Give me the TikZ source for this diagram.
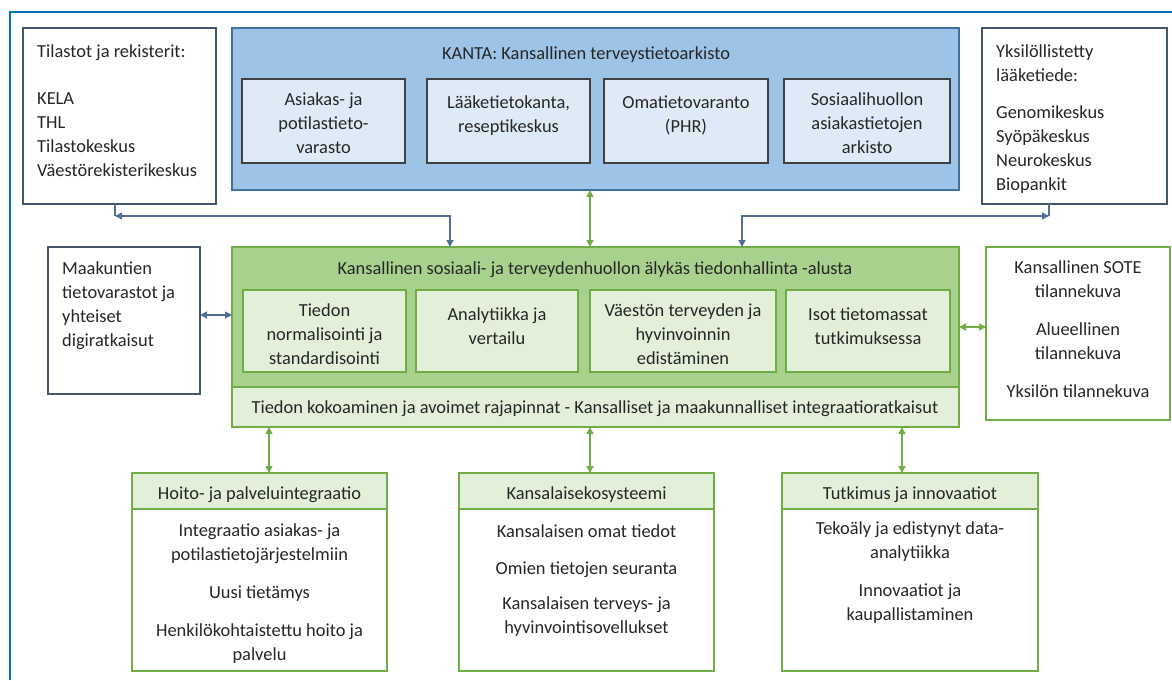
\documentclass[tikz,border=0pt]{standalone}
\usepackage{fontspec}
\setmainfont{Carlito}
\usetikzlibrary{arrows.meta,calc}

\definecolor{frameblue}{RGB}{0,112,192}
\definecolor{slate}{RGB}{68,84,106}
\definecolor{kantafill}{RGB}{157,195,230}
\definecolor{kantaline}{RGB}{65,113,156}
\definecolor{kinfill}{RGB}{222,235,247}
\definecolor{kinline}{RGB}{64,64,64}
\definecolor{gline}{RGB}{112,173,71}
\definecolor{gfill}{RGB}{169,209,142}
\definecolor{glight}{RGB}{226,240,217}
\definecolor{ink}{RGB}{38,38,38}
\definecolor{linkblue}{RGB}{84,110,150}

% multi-line text nodes are placed by the baseline of their last line
\tikzset{
  box/.style={anchor=north west, inner sep=0pt, outer sep=0pt, line width=1.8pt},
  plainbox/.style={box, draw=slate, fill=white},
  kantabox/.style={box, draw=kantaline, fill=kantafill},
  kinner/.style={box, draw=kinline, fill=kinfill, line width=1.5pt},
  greenbox/.style={box, draw=gline, fill=gfill},
  ginner/.style={box, draw=gline, fill=glight, line width=1.5pt},
  gwhite/.style={box, draw=gline, fill=white},
  txt/.style={inner sep=0pt, text=ink, font=\fontsize{18.4}{24}\selectfont},
  ctxt/.style={txt, align=center, anchor=base},
  ltxt/.style={txt, align=left, anchor=base west},
  ctip/.tip={Triangle[length=7pt,width=7pt]},
  blink/.style={draw=linkblue, line width=1.3pt},
  glink/.style={draw=gline, line width=1.5pt},
  both/.style={ctip-ctip},
}

\begin{document}
\begin{tikzpicture}[x=1pt,y=-1pt]
\useasboundingbox (0,0) rectangle (1172,680);

% frame
\draw[frameblue, line width=2.2pt] (10,680) -- (10,12) -- (1172,12);

% registers (top left)
\node[plainbox, minimum width=193, minimum height=176] (tl) at (23,28) {};
\node[ltxt] (tltext) at (37,176) {Tilastot ja rekisterit:\\[23pt]KELA\\THL\\Tilastokeskus\\Väestörekisterikeskus};

% KANTA
\node[kantabox, minimum width=727, minimum height=162] (kanta) at (232,28) {};
\node[ctxt] (kantatitle) at (586,59) {KANTA: Kansallinen terveystietoarkisto};
\node[kinner, minimum width=163, minimum height=84] (k1) at (242,79) {};
\node[kinner, minimum width=163, minimum height=84] (k2) at (427,79) {};
\node[kinner, minimum width=164, minimum height=84] (k3) at (604,79) {};
\node[kinner, minimum width=166, minimum height=84] (k4) at (784,79) {};
\node[ctxt] (k1t) at (323.5,153) {Asiakas- ja\\potilastieto-\\varasto};
\node[ctxt] (k2t) at (508.5,132) {Lääketietokanta,\\reseptikeskus};
\node[ctxt] (k3t) at (686,132) {Omatietovaranto\\(PHR)};
\node[ctxt] (k4t) at (867,153) {Sosiaalihuollon\\asiakastietojen\\arkisto};

% personalised medicine (top right)
\node[plainbox, minimum width=185, minimum height=176] (tr) at (982,28) {};
\node[ltxt] (trtext) at (996,190) {Yksilöllistetty\\lääketiede:\\[13pt]Genomikeskus\\Syöpäkeskus\\Neurokeskus\\Biopankit};

% regional repositories (middle left)
\node[plainbox, minimum width=152, minimum height=147] (ml) at (48,247) {};
\node[ltxt] (mltext) at (62,346) {Maakuntien\\tietovarastot ja\\yhteiset\\digiratkaisut};

% national platform
\node[greenbox, minimum width=727, minimum height=140] (gbig) at (232,247) {};
\node[ctxt] (gtitle) at (595,274) {Kansallinen sosiaali- ja terveydenhuollon älykäs tiedonhallinta -alusta};
\node[ginner, minimum width=163, minimum height=82] (g1) at (243,290) {};
\node[ginner, minimum width=162, minimum height=82] (g2) at (416,290) {};
\node[ginner, minimum width=186, minimum height=82] (g3) at (590,290) {};
\node[ginner, minimum width=164, minimum height=82] (g4) at (786,290) {};
\node[ctxt] (g1t) at (324.5,364) {Tiedon\\normalisointi ja\\standardisointi};
\node[ctxt] (g2t) at (497,344) {Analytiikka ja\\vertailu};
\node[ctxt] (g3t) at (683,364) {Väestön terveyden ja\\hyvinvoinnin\\edistäminen};
\node[ctxt] (g4t) at (868,344) {Isot tietomassat\\tutkimuksessa};
\node[ginner, line width=1.8pt, minimum width=727, minimum height=40] (strip) at (232,387) {};
\node[ctxt] (stript) at (595,413) {Tiedon kokoaminen ja avoimet rajapinnat - Kansalliset ja maakunnalliset integraatioratkaisut};

% situational pictures (middle right)
\node[gwhite, minimum width=184, minimum height=173] (mr) at (986,247) {};
\node[ctxt] (mrt) at (1078,397) {Kansallinen SOTE\\tilannekuva\\[14pt]Alueellinen\\tilannekuva\\[14pt]Yksilön tilannekuva};

% bottom boxes
\node[gwhite, minimum width=255, minimum height=198] (b1) at (132,473) {};
\node[ginner, line width=1.8pt, minimum width=255, minimum height=36] (b1h) at (132,473) {};
\node[gwhite, minimum width=255, minimum height=198] (b2) at (459,473) {};
\node[ginner, line width=1.8pt, minimum width=255, minimum height=36] (b2h) at (459,473) {};
\node[gwhite, minimum width=256, minimum height=198] (b3) at (782,473) {};
\node[ginner, line width=1.8pt, minimum width=256, minimum height=36] (b3h) at (782,473) {};

\node[ctxt] (b1ht) at (259.5,499) {Hoito- ja palveluintegraatio};
\node[ctxt] (b2ht) at (586.5,499) {Kansalaisekosysteemi};
\node[ctxt] (b3ht) at (910,499) {Tutkimus ja innovaatiot};
\node[ctxt] (b1t) at (259.5,660) {Integraatio asiakas- ja\\potilastietojärjestelmiin\\[14pt]Uusi tietämys\\[14pt]Henkilökohtaistettu hoito ja\\palvelu};
\node[ctxt] (b2t) at (586.5,633) {Kansalaisen omat tiedot\\[13pt]Omien tietojen seuranta\\[11pt]Kansalaisen terveys- ja\\hyvinvointisovellukset};
\node[ctxt] (b3t) at (910,620) {Tekoäly ja edistynyt data-\\analytiikka\\[14pt]Innovaatiot ja\\kaupallistaminen};

% connectors
\coordinate (c1) at (115,216);
\coordinate (c2) at (450,216);
\coordinate (c3) at (1049,216);
\coordinate (c4) at (742,216);
\draw[blink] (tl.south -| c1) -- (c1);
\draw[blink, both] (c1) -- (c2) -- (c2 |- gbig.north);
\draw[blink] (tr.south -| c3) -- (c3);
\draw[blink, both] (c3) -- (c4) -- (c4 |- gbig.north);

\coordinate (xk) at (590,0);
\draw[glink, both] (xk |- kanta.south) -- (xk |- gbig.north);

\coordinate (yl) at (0,315);
\draw[blink, both] (yl -| ml.east) -- (yl -| gbig.west);
\coordinate (yr) at (0,327);
\draw[glink, both] (yr -| gbig.east) -- (yr -| mr.west);

\coordinate (x1) at (269,0);
\coordinate (x2) at (590,0);
\coordinate (x3) at (902,0);
\draw[glink, both] (x1 |- strip.south) -- (x1 |- b1h.north);
\draw[glink, both] (x2 |- strip.south) -- (x2 |- b2h.north);
\draw[glink, both] (x3 |- strip.south) -- (x3 |- b3h.north);
\end{tikzpicture}
\end{document}
